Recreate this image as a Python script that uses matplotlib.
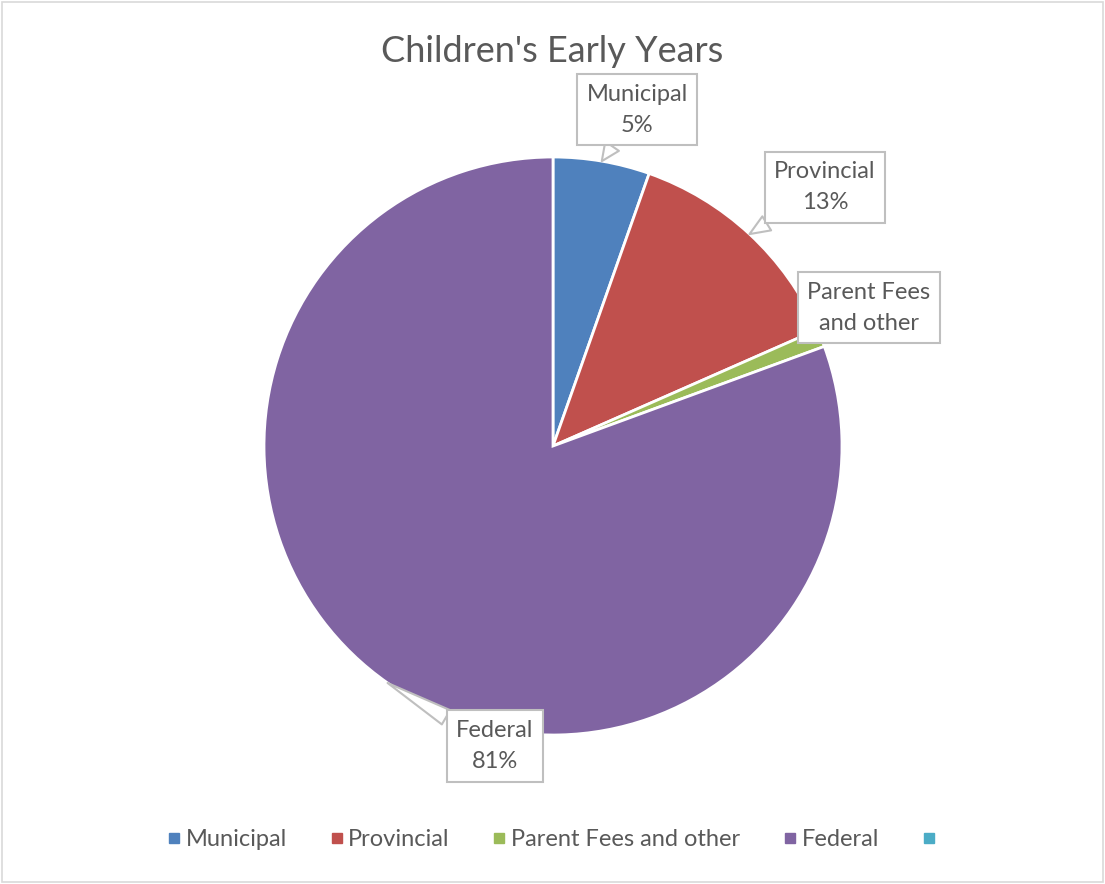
import numpy as np
import matplotlib.pyplot as plt
from matplotlib.lines import Line2D
from matplotlib.patches import Rectangle

categories = ['Municipal', 'Provincial', 'Parent Fees and other', 'Federal']
values = [5.4, 13.0, 1.0, 80.6]
slice_labels = ['Municipal\n5%', 'Provincial\n13%', 'Parent Fees\nand other', 'Federal\n81%']
colors = ['#4f81bd', '#c0504d', '#9bbb59', '#8064a2']
extra_color = '#4bacc6'
# label box centres, in pie radius units
label_pos = [(0.291, 1.163), (0.941, 0.896), (1.093, 0.478), (-0.201, -1.038)]

plt.rcParams['font.family'] = ['Lato', 'DejaVu Sans']
txt = '#595959'

fig = plt.figure(figsize=(11.05, 8.84), dpi=100)
fig.patches.append(Rectangle((0.002, 0.002), 0.996, 0.996, transform=fig.transFigure,
                             fill=False, edgecolor='#d9d9d9', linewidth=1.2))

cx, cy, r = 553, 446, 289
ax = fig.add_axes([(cx - r) / 1105, (884 - cy - r) / 884, 2 * r / 1105, 2 * r / 884])
wedges, _ = ax.pie(values, colors=colors, startangle=90, counterclock=False,
                   wedgeprops=dict(edgecolor='white', linewidth=2))
ax.set_xlim(-1, 1)
ax.set_ylim(-1, 1)
ax.set_aspect('equal')
ax.axis('off')

for w, lab, (lx, ly) in zip(wedges, slice_labels, label_pos):
    mid = np.deg2rad((w.theta1 + w.theta2) / 2)
    tip = (np.cos(mid), np.sin(mid))
    ax.annotate(lab, xy=tip, xytext=(lx, ly), ha='center', va='center',
                fontsize=17, color=txt, linespacing=1.6,
                bbox=dict(boxstyle='square,pad=0.4', fc='white', ec='#bfbfbf', lw=1.5),
                arrowprops=dict(arrowstyle='wedge,tail_width=0.7,shrink_factor=0.5',
                                fc='white', ec='#bfbfbf', lw=1.5, shrinkA=0, shrinkB=0))

fig.text(0.5, (884 - 51) / 884, "Children's Early Years", ha='center', va='center',
         fontsize=26, color=txt)

handles = [Line2D([], [], marker='s', linestyle='none', markersize=7, color=c) for c in colors]
handles.append(Line2D([], [], marker='s', linestyle='none', markersize=7, color=extra_color))
fig.legend(handles, categories + [''], loc='center', bbox_to_anchor=(0.5, (884 - 840) / 884),
           ncol=5, frameon=False, fontsize=17, labelcolor=txt, handletextpad=0.1,
           columnspacing=1.7, handlelength=0.8)

fig.savefig('out.png', dpi=100)
